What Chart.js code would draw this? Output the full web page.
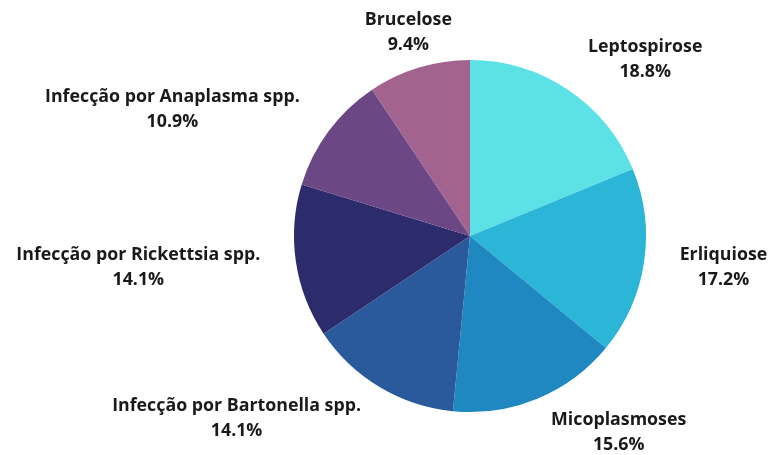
<!DOCTYPE html>
<html>
<head>
<meta charset="utf-8">
<script src="https://cdn.jsdelivr.net/npm/chart.js@4/dist/chart.umd.min.js"></script>
<style>
  html, body { margin: 0; padding: 0; background: #fff; }
  #wrap { width: 771px; height: 455px; }
</style>
</head>
<body>
<div id="wrap"><canvas id="pieChart"></canvas></div>
<script>
  // Diseases and their share (%)
  var labels = [
    "Leptospirose",
    "Erliquiose",
    "Micoplasmoses",
    "Infecção por Bartonella spp.",
    "Infecção por Rickettsia spp.",
    "Infecção por Anaplasma spp.",
    "Brucelose"
  ];
  var shares = [18.8, 17.2, 15.6, 14.1, 14.1, 10.9, 9.4];
  var colors = ["#5ce1e6", "#2bb5d6", "#1f88c0", "#2a5a9c", "#2c2c6c", "#6c4785", "#a2638f"];

  // Draws the name + percentage outside each slice
  var outsideLabels = {
    id: 'outsideLabels',
    afterDatasetsDraw: function(chart) {
      var ctx = chart.ctx;
      var meta = chart.getDatasetMeta(0);
      ctx.save();
      ctx.font = "bold 17.8px 'Open Sans'";
      ctx.fillStyle = "#1a1a1a";
      ctx.textBaseline = "middle";
      ctx.textAlign = "center";
      var lineH = 25;
      meta.data.forEach(function(arc, i) {
        var p = arc.getProps(['x', 'y', 'startAngle', 'endAngle', 'outerRadius'], true);
        var mid = (p.startAngle + p.endAngle) / 2;
        var s = Math.cos(mid);   // horizontal component
        var c = -Math.sin(mid);  // vertical (up) component
        var r = p.outerRadius + 12;
        var ax = p.x + r * s;
        var ay = p.y - r * c;
        var line1 = labels[i];
        var line2 = shares[i].toFixed(1) + "%";
        var w = Math.max(ctx.measureText(line1).width, ctx.measureText(line2).width);
        var cx;
        if (Math.abs(s) < 0.35) cx = ax + 24 * s;
        else if (s > 0) cx = ax + 24 * s + w / 2;
        else cx = ax + 24 * s - w / 2;
        var top = ay - 2 * lineH * (1 + c) / 2;
        ctx.fillText(line1, cx, top + lineH / 2);
        ctx.fillText(line2, cx, top + lineH * 1.5);
      });
      ctx.restore();
    }
  };

  var ctx = document.getElementById('pieChart').getContext('2d');
  var chart = new Chart(ctx, {
    type: 'pie',
    data: {
      labels: labels,
      datasets: [{
        data: shares,
        backgroundColor: colors,
        borderWidth: 0
      }]
    },
    options: {
      responsive: true,
      maintainAspectRatio: false,
      animation: false,
      layout: { padding: { left: 294, right: 125, top: 60, bottom: 43 } },
      plugins: {
        legend: { display: false },
        tooltip: { enabled: false }
      }
    },
    plugins: [outsideLabels]
  });
</script>
</body>
</html>
